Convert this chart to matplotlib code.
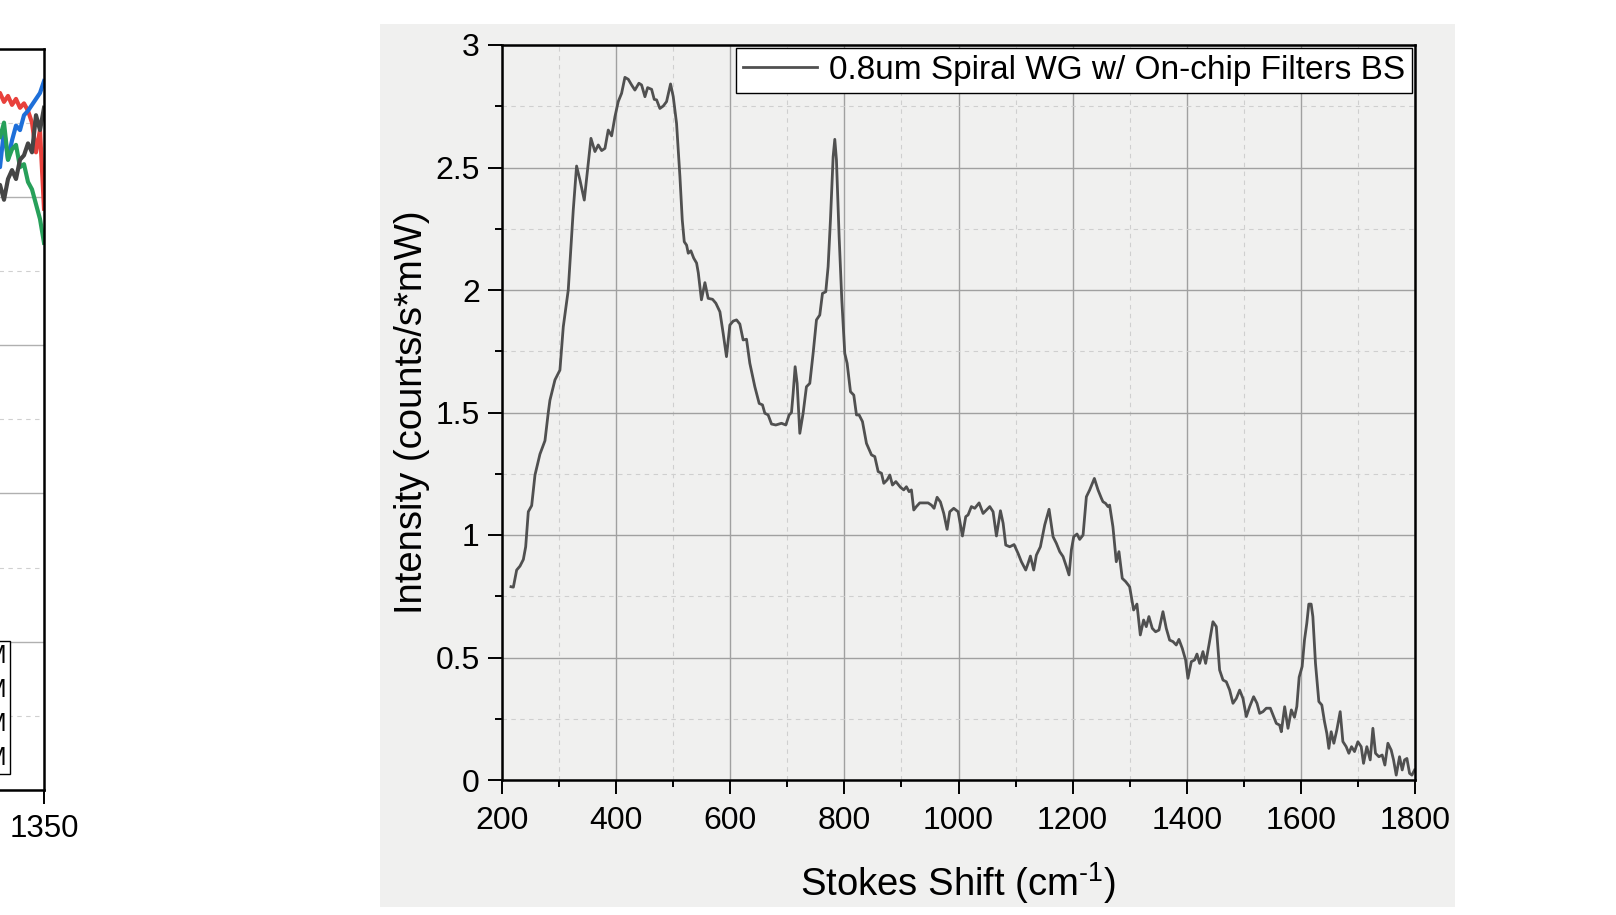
import matplotlib
matplotlib.use('Agg')
import matplotlib.pyplot as plt
from matplotlib.patches import Rectangle
from matplotlib.ticker import MultipleLocator

plt.rcParams['font.family'] = ['Liberation Sans', 'DejaVu Sans']
plt.rcParams['mathtext.fontset'] = 'custom'
plt.rcParams['mathtext.rm'] = 'Liberation Sans'
plt.rcParams['mathtext.it'] = 'Liberation Sans:italic'
plt.rcParams['mathtext.bf'] = 'Liberation Sans:bold'

# right chart: spectrum
stokes_shift = [
    215.8, 219.9, 225.7, 231.5, 237.4, 241.5, 246.1, 252.0, 257.8, 266.5, 275.3, 281.1, 284.0,
    292.8, 301.5, 307.4, 316.1, 324.9, 330.7, 336.6, 344.2, 350.0, 355.9, 362.9, 368.7, 374.6,
    380.4, 386.2, 392.1, 397.9, 403.7, 409.6, 415.4, 421.3, 427.1, 432.9, 439.9, 444.6, 450.5,
    455.2, 462.2, 466.8, 470.9, 476.7, 482.6, 488.4, 495.4, 500.1, 505.9, 511.8, 515.9, 519.4,
    523.5, 526.4, 531.0, 536.0, 541.0, 544.0, 549.5, 555.6, 561.3, 569.0, 574.8, 581.9, 587.6,
    593.4, 599.3, 605.1, 611.0, 616.8, 622.6, 628.5, 634.3, 643.1, 650.7, 656.5, 660.6, 666.4,
    672.3, 679.8, 689.8, 697.4, 703.2, 707.3, 710.2, 713.7, 717.2, 721.9, 727.7, 733.5, 739.4,
    745.2, 751.1, 756.9, 761.6, 767.4, 771.5, 775.6, 780.3, 783.2, 786.1, 790.8, 795.5, 800.7,
    804.8, 810.7, 816.5, 821.2, 825.8, 831.7, 838.7, 847.5, 853.3, 859.2, 865.0, 869.1, 875.0,
    879.6, 884.3, 890.2, 898.2, 904.0, 908.7, 913.4, 917.5, 921.6, 926.2, 932.1, 937.9, 946.7,
    952.5, 957.2, 962.5, 968.3, 974.2, 980.0, 984.7, 991.7, 999.3, 1006.9, 1012.7, 1016.8, 1022.6,
    1028.5, 1036.1, 1043.1, 1048.9, 1054.8, 1060.6, 1066.5, 1073.5, 1078.2, 1082.8, 1089.8, 1097.4,
    1104.4, 1110.2, 1117.8, 1121.9, 1126.0, 1131.8, 1136.5, 1143.5, 1151.1, 1158.7, 1165.7, 1171.5,
    1177.4, 1183.2, 1189.1, 1193.7, 1197.8, 1201.9, 1207.7, 1212.4, 1218.3, 1224.1, 1229.9, 1238.1,
    1244.5, 1250.4, 1253.1, 1257.8, 1261.9, 1264.8, 1270.6, 1276.5, 1281.2, 1287.0, 1292.9, 1299.9,
    1306.9, 1312.7, 1318.6, 1324.4, 1329.1, 1333.7, 1339.6, 1345.4, 1351.3, 1358.3, 1364.1, 1370.0,
    1375.8, 1381.6, 1386.3, 1392.2, 1398.0, 1402.1, 1408.0, 1413.8, 1417.9, 1422.6, 1428.4, 1433.1,
    1438.9, 1445.9, 1451.8, 1457.6, 1463.5, 1469.3, 1475.2, 1481.0, 1486.9, 1492.7, 1498.5, 1504.4,
    1510.2, 1517.2, 1523.1, 1527.8, 1533.6, 1539.4, 1546.5, 1552.3, 1557.0, 1562.8, 1565.7, 1571.6,
    1577.4, 1583.3, 1588.8, 1592.9, 1597.0, 1602.2, 1606.3, 1610.4, 1613.9, 1618.0, 1621.0, 1625.6,
    1631.5, 1636.7, 1641.4, 1645.5, 1649.0, 1653.1, 1657.8, 1663.0, 1668.9, 1673.6, 1679.4, 1684.1,
    1688.8, 1694.0, 1699.9, 1705.7, 1709.8, 1715.6, 1721.5, 1726.2, 1730.8, 1736.7, 1742.5, 1747.2,
    1752.5, 1758.3, 1762.4, 1767.1, 1772.9, 1777.6, 1781.7, 1785.8, 1790.5, 1794.6, 1799.3,
]
intensity = [
    0.789, 0.787, 0.857, 0.873, 0.900, 0.952, 1.095, 1.120, 1.245, 1.330, 1.385, 1.500, 1.550,
    1.633, 1.673, 1.850, 2.000, 2.327, 2.506, 2.449, 2.367, 2.490, 2.619, 2.565, 2.592, 2.569,
    2.578, 2.653, 2.629, 2.707, 2.769, 2.803, 2.868, 2.860, 2.837, 2.816, 2.844, 2.837, 2.789,
    2.826, 2.819, 2.778, 2.776, 2.741, 2.751, 2.769, 2.841, 2.789, 2.680, 2.463, 2.286, 2.197,
    2.183, 2.150, 2.160, 2.130, 2.110, 2.070, 1.960, 2.030, 1.966, 1.962, 1.946, 1.911, 1.823,
    1.728, 1.857, 1.873, 1.878, 1.861, 1.796, 1.799, 1.701, 1.605, 1.537, 1.531, 1.497, 1.490,
    1.453, 1.449, 1.456, 1.449, 1.490, 1.500, 1.578, 1.687, 1.619, 1.415, 1.497, 1.605, 1.619,
    1.741, 1.878, 1.898, 1.986, 1.993, 2.095, 2.286, 2.544, 2.615, 2.531, 2.218, 1.959, 1.741,
    1.701, 1.585, 1.571, 1.490, 1.490, 1.463, 1.374, 1.327, 1.320, 1.259, 1.252, 1.211, 1.225,
    1.245, 1.204, 1.218, 1.195, 1.184, 1.197, 1.177, 1.184, 1.102, 1.116, 1.131, 1.131, 1.131,
    1.122, 1.109, 1.154, 1.135, 1.088, 1.023, 1.095, 1.109, 1.095, 0.996, 1.075, 1.082, 1.116,
    1.109, 1.131, 1.088, 1.102, 1.116, 1.095, 0.996, 1.099, 1.048, 0.959, 0.952, 0.961,
    0.925, 0.891, 0.857, 0.884, 0.914, 0.857, 0.918, 0.952, 1.041, 1.105, 0.993, 0.966,
    0.932, 0.912, 0.871, 0.837, 0.939, 0.993, 1.004, 0.982, 1.000, 1.156, 1.184, 1.231,
    1.184, 1.150, 1.136, 1.129, 1.116, 1.122, 1.034, 0.891, 0.932, 0.823, 0.810, 0.789,
    0.694, 0.718, 0.592, 0.653, 0.626, 0.667, 0.619, 0.605, 0.612, 0.687, 0.619, 0.571,
    0.565, 0.551, 0.574, 0.537, 0.490, 0.415, 0.483, 0.490, 0.514, 0.476, 0.524, 0.476,
    0.551, 0.646, 0.626, 0.449, 0.408, 0.401, 0.367, 0.313, 0.333, 0.367, 0.333, 0.259,
    0.299, 0.340, 0.313, 0.272, 0.279, 0.293, 0.293, 0.259, 0.231, 0.224, 0.197, 0.299,
    0.211, 0.286, 0.256, 0.300, 0.420, 0.463, 0.571, 0.640, 0.718, 0.718, 0.667, 0.476,
    0.320, 0.306, 0.238, 0.190, 0.129, 0.197, 0.150, 0.204, 0.279, 0.157, 0.136, 0.109,
    0.136, 0.116, 0.156, 0.136, 0.068, 0.136, 0.082, 0.211, 0.109, 0.095, 0.102, 0.061,
    0.150, 0.122, 0.082, 0.020, 0.095, 0.041, 0.082, 0.088, 0.027, 0.020, 0.041,
]
spectrum_label = '0.8um Spiral WG w/ On-chip Filters BS'
x_ticks = [200, 400, 600, 800, 1000, 1200, 1400, 1600, 1800]
y_ticks = [0, 0.5, 1, 1.5, 2, 2.5, 3]
y_tick_labels = ['0', '0.5', '1', '1.5', '2', '2.5', '3']

# left chart: only its right edge is inside the picture
left_x = [1326, 1328, 1330, 1332, 1334, 1336, 1338, 1340, 1342, 1344, 1346, 1348, 1350]
left_red = [4.66, 4.70, 4.64, 4.68, 4.62, 4.66, 4.60, 4.63, 4.58, 4.50, 4.30, 4.45, 3.92]
left_blue = [4.30, 4.20, 4.45, 4.25, 4.38, 4.48, 4.45, 4.55, 4.58, 4.62, 4.66, 4.70, 4.78]
left_green = [4.55, 4.40, 4.50, 4.25, 4.32, 4.35, 4.20, 4.22, 4.10, 4.05, 3.95, 3.85, 3.69]
left_black = [4.05, 4.08, 3.98, 4.12, 4.18, 4.12, 4.25, 4.28, 4.36, 4.30, 4.55, 4.45, 4.60]
left_labels = ['Conc. 0.1 mM', 'Conc. 0.5 mM', 'Conc. 1.0 mM', 'Conc. 2.0 mM']

W, H = 1616, 915
fig = plt.figure(figsize=(W / 100, H / 100), dpi=100)
fig.patch.set_facecolor('white')

# grey panel behind the right chart
fig.add_artist(Rectangle((380 / W, 1 - 907 / H), 1075 / W, 883 / H, transform=fig.transFigure,
                         facecolor='#f0f0ef', edgecolor='none', zorder=-1))

# ---- left (cut off) chart ----
axL = fig.add_axes([-556 / W, 1 - 790 / H, 600 / W, 741.5 / H])
axL.set_facecolor('white')
for ys, c in zip([left_red, left_blue, left_green, left_black],
                 ['#e8413c', '#1e6fd9', '#27a05a', '#454545']):
    axL.plot(left_x, ys, color=c, lw=3)
axL.set_xlim(1050, 1350)
axL.set_ylim(0, 5)
axL.set_xticks([1350])
axL.yaxis.set_major_locator(MultipleLocator(1))
axL.yaxis.set_minor_locator(MultipleLocator(0.5))
axL.grid(True, axis='y', which='major', color='#b0b0b0', lw=1)
axL.grid(True, axis='y', which='minor', color='#d0d0d0', lw=0.8, ls=(0, (4, 4)))
axL.tick_params(axis='x', direction='out', length=10, width=1.4, labelsize=22.5, pad=7)
axL.tick_params(axis='y', left=False, labelleft=False, which='both')
for s in axL.spines.values():
    s.set_linewidth(1.8)
    s.set_color('black')
axL.legend(left_labels, loc='lower right', bbox_to_anchor=(10 / W, 1 - 774 / H),
           bbox_transform=fig.transFigure, fontsize=18, fancybox=False, framealpha=1,
           edgecolor='black', borderaxespad=0, labelspacing=0.4, borderpad=0.15)

# ---- right chart ----
ax = fig.add_axes([502 / W, 1 - 780 / H, 913 / W, 735 / H])
ax.set_facecolor('#f0f0ef')
ax.plot(stokes_shift, intensity, color='#505050', lw=2.0, label=spectrum_label,
        solid_joinstyle='round')
ax.set_xlim(200, 1800)
ax.set_ylim(0, 3)
ax.set_xticks(x_ticks)
ax.set_yticks(y_ticks)
ax.set_yticklabels(y_tick_labels)
ax.xaxis.set_minor_locator(MultipleLocator(100))
ax.yaxis.set_minor_locator(MultipleLocator(0.25))
ax.grid(True, which='major', color='#a0a0a0', lw=1)
ax.grid(True, which='minor', color='#cfcfcf', lw=0.8, ls=(0, (4, 4)))
ax.set_axisbelow(True)
ax.tick_params(which='major', direction='out', length=10, width=1.4, labelsize=23, pad=6)
ax.tick_params(axis='x', which='major', pad=9)
ax.tick_params(which='minor', direction='out', length=5, width=1.4)
for s in ax.spines.values():
    s.set_linewidth(1.8)
    s.set_color('black')
ax.set_xlabel('Stokes Shift (cm$^{\u20101}$)', fontsize=27.5, labelpad=17)
ax.set_ylabel('Intensity (counts/s*mW)', fontsize=27.5, labelpad=4)
ax.legend(loc='upper right', fontsize=24, fancybox=False, framealpha=1, edgecolor='black',
          borderaxespad=0.08, borderpad=0.22, handlelength=2.2, handletextpad=0.37)

fig.savefig('out.png', dpi=100)
